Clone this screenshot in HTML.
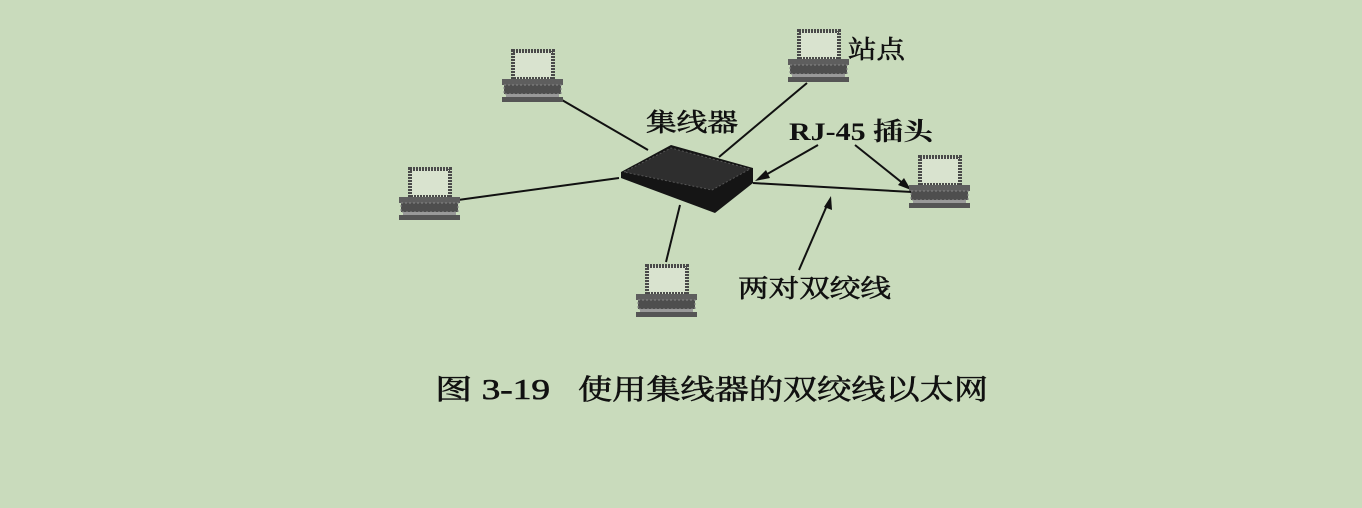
<!DOCTYPE html>
<html><head><meta charset="utf-8"><style>
html,body{margin:0;padding:0;background:#c9dbbc;}
svg{display:block}
text{font-family:"Liberation Serif","Noto Serif CJK SC",serif;fill:#111}
</style></head><body>
<svg width="1362" height="508" viewBox="0 0 1362 508" xmlns="http://www.w3.org/2000/svg">
<defs>
<g id="pc">
  <rect x="11" y="0" width="40" height="28" fill="#d9e3cf" stroke="#4a4a4a" stroke-width="4" stroke-dasharray="2 1"/>
  <rect x="0" y="28" width="61" height="6" fill="#5e5e5e"/>
  <rect x="2" y="34" width="57" height="9" fill="#4e4e4e" stroke="#888" stroke-width="1" stroke-dasharray="2 2"/>
  <rect x="4" y="43" width="53" height="3" fill="#999"/>
  <rect x="0" y="46" width="61" height="5" fill="#555"/>
</g>
</defs>
<g stroke="#111" stroke-width="2" fill="none">
  <line x1="562" y1="100" x2="648" y2="150"/>
  <line x1="807" y1="83" x2="719" y2="157"/>
  <line x1="458" y1="200" x2="619" y2="178"/>
  <line x1="680" y1="205" x2="666" y2="262"/>
  <line x1="753" y1="183" x2="912" y2="192"/>
  <line x1="818" y1="145" x2="762" y2="177"/>
  <line x1="855" y1="145" x2="905" y2="185"/>
  <line x1="799" y1="270" x2="828" y2="203"/>
</g>
<g fill="#111">
  <polygon points="755,181 766,170 770,178"/>
  <polygon points="911,190 898,185 904,178"/>
  <polygon points="831,196 832,210 824,207"/>
</g>
<polygon points="621,172 671,145 753,168 753,183 715,213 621,178" fill="#151515"/>
<polygon points="624,172 671,148 750,169 712,190" fill="#2e2e2e" stroke="#555" stroke-width="1" stroke-dasharray="2 2"/>
<use href="#pc" x="502" y="51"/>
<use href="#pc" x="788" y="31"/>
<use href="#pc" x="399" y="169"/>
<use href="#pc" x="636" y="266"/>
<use href="#pc" x="909" y="157"/>
<g stroke="#111" stroke-width="0.6">
<text x="848" y="58" font-size="25" textLength="57" lengthAdjust="spacingAndGlyphs">站点</text>
<text x="646" y="131" font-size="25" textLength="92" lengthAdjust="spacingAndGlyphs">集线器</text>
<text x="738" y="297" font-size="25" textLength="153" lengthAdjust="spacingAndGlyphs">两对双绞线</text>
<text x="435" y="399" font-size="28" textLength="115" lengthAdjust="spacingAndGlyphs">图 3-19</text>
<text x="578" y="399" font-size="28" textLength="410" lengthAdjust="spacingAndGlyphs">使用集线器的双绞线以太网</text>
</g>
<text x="789" y="140" font-size="25" font-weight="bold" textLength="144" lengthAdjust="spacingAndGlyphs">RJ-45 插头</text>
</svg>
</body></html>
